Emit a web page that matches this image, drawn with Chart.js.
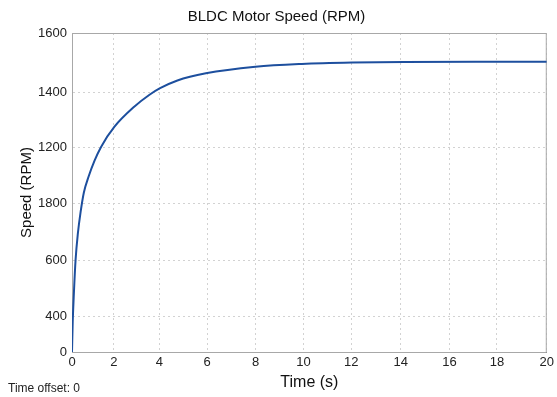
<!DOCTYPE html>
<html lang="en">
<head>
    <meta charset="UTF-8">
    <title>BLDC Motor Speed</title>
    <style>
        body {
            margin: 0;
            background: #fff;
            font-family: 'Liberation Sans', Arial, sans-serif;
        }

        .wrap {
            position: relative;
            width: 557px;
            height: 397px;
        }

        .offset-note {
            position: absolute;
            left: 8px;
            top: 381px;
            font-size: 12px;
            color: #222;
        }
    </style>
</head>
<body>
    <div class="wrap">
        <canvas id="speedChart" width="557" height="397"></canvas>
        <div class="offset-note">Time offset: 0</div>
    </div>

    <script src="https://cdn.jsdelivr.net/npm/chart.js"></script>
    <script>
        // curve (time in s, speed in RPM)
        const timeS = [0, 0.03, 0.08, 0.15, 0.25, 0.36, 0.5, 0.7, 0.95, 1.23, 1.79, 2.62, 3.25, 3.71, 4.44, 5.64, 7.73, 9.68, 11.8, 14, 17, 20];
        const speedRpm = [0, 150, 296, 461, 597, 700, 800, 880, 960, 1030, 1130, 1230, 1289, 1323, 1362, 1398, 1431, 1445, 1452, 1455, 1456, 1456];

        // tick labels as printed, and where they sit on each axis
        const yTickLabels = ['0', '400', '600', '1800', '1200', '1400', '1600'];
        const yTickValues = [0, 176, 461, 747, 1028, 1304, 1600];
        const xTickLabels = ['0', '2', '4', '6', '8', '10', '12', '14', '16', '18', '20'];
        const xTickValues = [0, 1.76, 3.68, 5.69, 7.74, 9.75, 11.76, 13.85, 15.9, 17.9, 20];

        const font = "'Liberation Sans', Arial, sans-serif";

        // grey box round the plot area
        const framePlugin = {
            id: 'frame',
            beforeDatasetsDraw(chart) {
                const a = chart.chartArea;
                const c = chart.ctx;
                c.save();
                c.strokeStyle = '#a8a8a8';
                c.lineWidth = 1;
                c.strokeRect(a.left + 0.5, a.top + 0.5, a.right - a.left - 1, a.bottom - a.top);
                c.restore();
            }
        };

        new Chart(document.getElementById('speedChart'), {
            type: 'line',
            data: {
                datasets: [{
                    data: timeS.map((t, i) => ({ x: t, y: speedRpm[i] })),
                    borderColor: '#1d4f9e',
                    borderWidth: 2,
                    pointRadius: 0,
                    cubicInterpolationMode: 'monotone',
                    fill: false
                }]
            },
            options: {
                responsive: false,
                devicePixelRatio: 1,
                animation: false,
                layout: { padding: { left: 0, right: 4, top: 0, bottom: 0 } },
                plugins: {
                    legend: { display: false },
                    tooltip: { enabled: false },
                    title: {
                        display: true,
                        text: 'BLDC Motor Speed (RPM)',
                        color: '#111',
                        font: { family: font, size: 15, weight: 'normal' },
                        padding: { top: 8, bottom: 7 }
                    }
                },
                scales: {
                    x: {
                        type: 'linear',
                        min: 0,
                        max: 20,
                        afterBuildTicks: s => { s.ticks = xTickValues.map(v => ({ value: v })); },
                        afterFit: s => { s.height = 45; },
                        ticks: {
                            autoSkip: false,
                            maxRotation: 0,
                            padding: 3,
                            color: '#222',
                            font: { family: font, size: 13 },
                            callback: (v, i) => xTickLabels[i]
                        },
                        grid: { color: '#d2d2d2', drawTicks: false },
                        border: { display: true, color: '#4a4f5a', dash: [2, 3] },
                        title: {
                            display: true,
                            text: 'Time (s)',
                            color: '#111',
                            font: { family: font, size: 16 },
                            padding: { top: 0, bottom: 5 }
                        }
                    },
                    y: {
                        type: 'linear',
                        min: 0,
                        max: 1600,
                        afterBuildTicks: s => { s.ticks = yTickValues.map(v => ({ value: v })); },
                        afterFit: s => { s.width = 72; },
                        ticks: {
                            autoSkip: false,
                            padding: 5,
                            color: '#222',
                            font: { family: font, size: 13 },
                            callback: (v, i) => yTickLabels[i]
                        },
                        grid: { color: '#d2d2d2', drawTicks: false },
                        border: { display: true, color: '#9a9a9a', dash: [2, 3] },
                        title: {
                            display: true,
                            text: 'Speed (RPM)',
                            color: '#111',
                            font: { family: font, size: 15 },
                            padding: { top: 18, bottom: 0 }
                        }
                    }
                }
            },
            plugins: [framePlugin]
        });
    </script>
</body>
</html>
